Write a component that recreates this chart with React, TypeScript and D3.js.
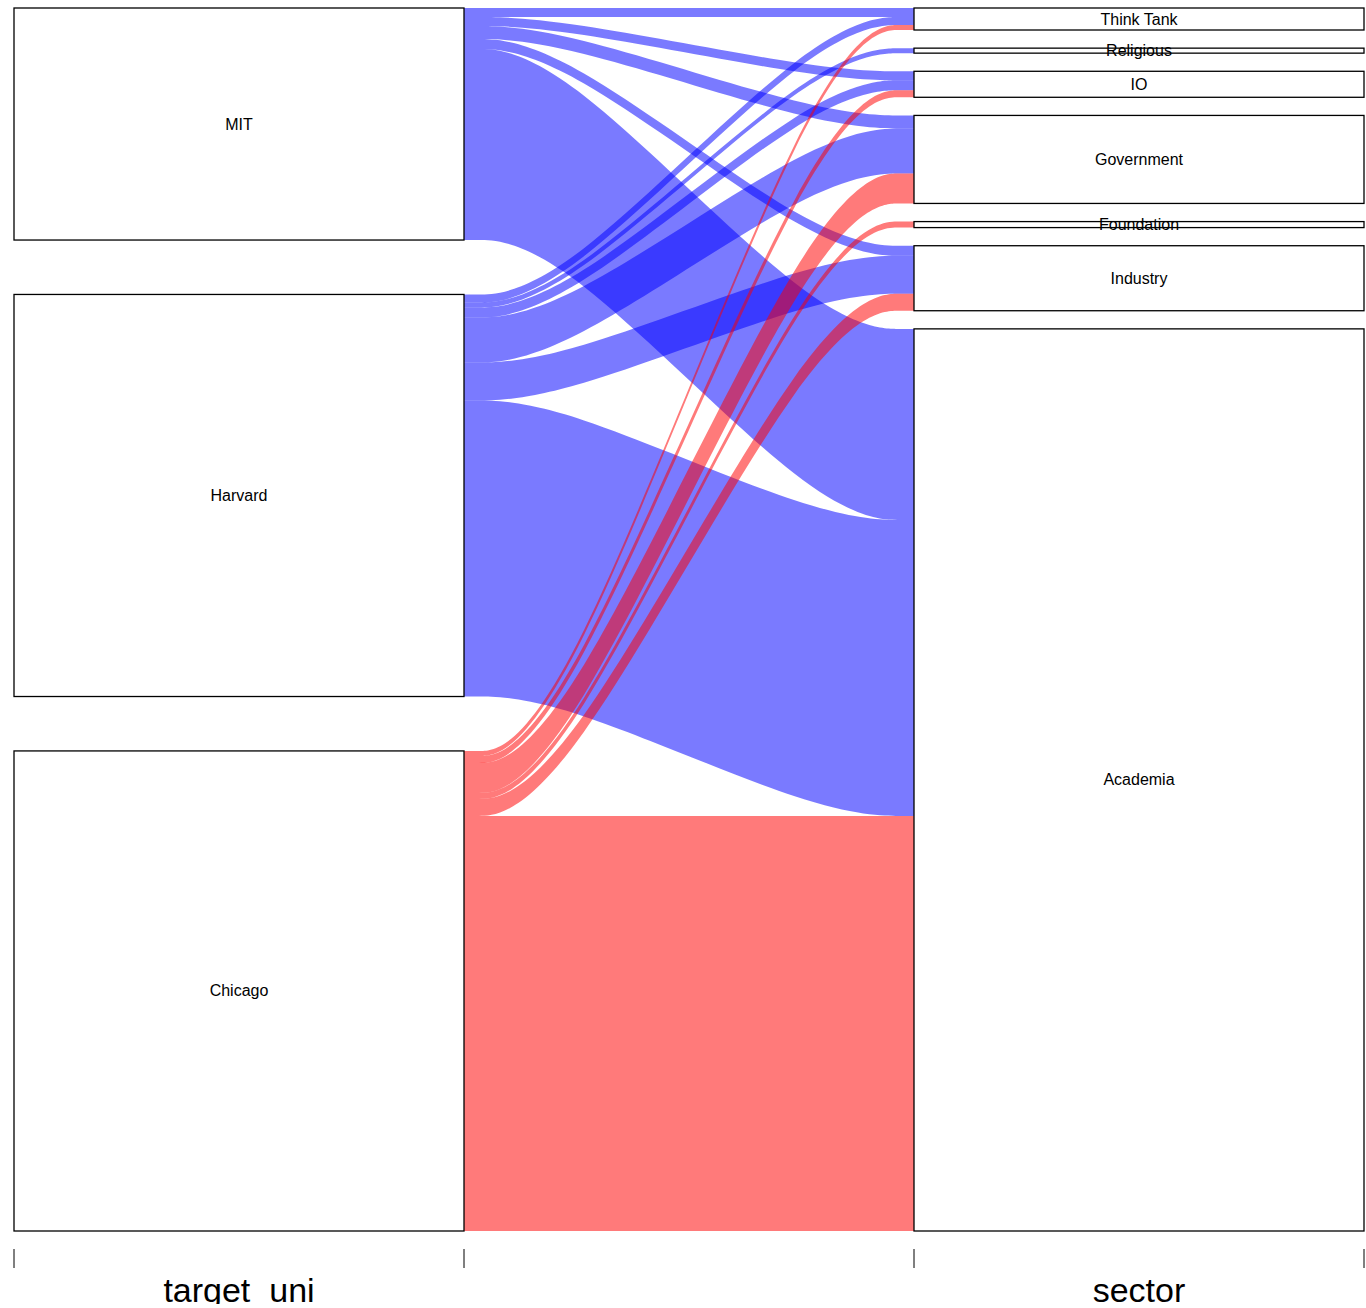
import React from "react";
import * as d3 from "d3";

// Levels (factor order; first level drawn at the bottom)
const uniLevels = ["Chicago", "Harvard", "MIT"];
const sectorLevels = ["Academia", "Industry", "Foundation", "Government", "IO", "Religious", "Think Tank"];

// Frequencies per university, by sector (same order as sectorLevels)
const chicagoFreq = [415, 17, 6, 30, 7, 0, 5];
const harvardFreq = [296, 38, 0, 45, 10, 5, 8];
const mitFreq = [191, 10, 0, 13, 9, 0, 9];

const uniColors = ["#ff0000", "#0000ff", "#0000ff"];
const axisLabels = ["target_uni", "sector"];

type Row = { ui: number; si: number; f: number };

export default function App() {
  const W = 1366;
  const H = 1308;
  const cw = 0.25;
  const xw = 0.1;
  const gapWidth = 0.089;
  const x = d3.scaleLinear().domain([1 - cw, 2 + cw]).range([14, 1364]);
  const y = d3.scaleLinear().domain([0, 1]).range([1231, 8]);

  const freqByUni = [chicagoFreq, harvardFreq, mitFreq];
  const rows: Row[] = [];
  uniLevels.forEach((_, ui) =>
    sectorLevels.forEach((_, si) => {
      const f = freqByUni[ui][si];
      if (f > 0) rows.push({ ui, si, f });
    })
  );
  const total = d3.sum(rows, (r) => r.f);
  const keys = [(r: Row) => r.ui, (r: Row) => r.si];

  const pos = keys.map((key, i) => {
    const other = keys[1 - i];
    const order = d3
      .range(rows.length)
      .sort((a, b) => key(rows[a]) - key(rows[b]) || other(rows[a]) - other(rows[b]));
    let cum = 0;
    let g = 0;
    let prev: number | null = null;
    const res: { lo: number; hi: number; g: number }[] = new Array(rows.length);
    order.forEach((idx, k) => {
      const kv = key(rows[idx]);
      if (k > 0 && kv !== prev) g++;
      prev = kv;
      res[idx] = { lo: cum, hi: cum + rows[idx].f, g };
      cum += rows[idx].f;
    });
    const mx = Math.max(g, 1);
    return res.map((p) => ({
      lo: (p.lo / total) * (1 - gapWidth) + (p.g / mx) * gapWidth,
      hi: (p.hi / total) * (1 - gapWidth) + (p.g / mx) * gapWidth,
    }));
  });

  const line = d3.line().curve(d3.curveBasis);
  const x0 = x(1 + cw);
  const x1 = x(2 - cw);
  const c0 = x(1 + cw + xw);
  const c1 = x(2 - cw - xw);

  const stripes = rows.map((r, i) => {
    const L = pos[0][i];
    const R = pos[1][i];
    const top = line([
      [x0, y(L.hi)],
      [c0, y(L.hi)],
      [c1, y(R.hi)],
      [x1, y(R.hi)],
    ]) as string;
    const bot = line([
      [x1, y(R.lo)],
      [c1, y(R.lo)],
      [c0, y(L.lo)],
      [x0, y(L.lo)],
    ]) as string;
    return { d: top + "L" + bot.slice(1) + "Z", color: uniColors[r.ui], ui: r.ui };
  });
  // blue first, red (Chicago) on top
  const drawOrder = [...stripes].sort((a, b) => (a.ui === 0 ? 1 : 0) - (b.ui === 0 ? 1 : 0));

  const levelSets = [uniLevels, sectorLevels];
  const boxes: { x: number; y0: number; y1: number; label: string }[] = [];
  levelSets.forEach((levels, i) => {
    levels.forEach((lab, li) => {
      const idxs = rows.map((r, k) => (keys[i](r) === li ? k : -1)).filter((k) => k >= 0);
      if (!idxs.length) return;
      const lo = d3.min(idxs, (k) => pos[i][k].lo) as number;
      const hi = d3.max(idxs, (k) => pos[i][k].hi) as number;
      boxes.push({ x: i + 1, y0: y(hi), y1: y(lo), label: lab });
    });
  });

  const tickXs = [1 - cw, 1 + cw, 2 - cw, 2 + cw];

  return (
    <svg
      width={W}
      height={H}
      style={{ position: "absolute", left: 0, top: 0, background: "#fff" }}
      fontFamily="'Liberation Sans', Arial, Helvetica, sans-serif"
    >
      <defs>
        <clipPath id="axisClip">
          <rect x={0} y={1240} width={W} height={64} />
        </clipPath>
      </defs>
      <rect x={0} y={0} width={W} height={H} fill="#fff" />
      {drawOrder.map((s, i) => (
        <path key={i} d={s.d} fill={s.color} fillOpacity={0.52} stroke="none" />
      ))}
      {boxes.map((b, i) => (
        <g key={i}>
          <rect
            x={x(b.x - cw)}
            y={b.y0}
            width={x(b.x + cw) - x(b.x - cw)}
            height={b.y1 - b.y0}
            fill="#fff"
            stroke="#000"
            strokeWidth={1.3}
          />
          <text
            x={x(b.x)}
            y={(b.y0 + b.y1) / 2}
            textAnchor="middle"
            dominantBaseline="central"
            fontSize={16}
            fill="#000"
          >
            {b.label}
          </text>
        </g>
      ))}
      {tickXs.map((t, i) => (
        <line key={i} x1={x(t)} x2={x(t)} y1={1249} y2={1268} stroke="#000" strokeWidth={1} />
      ))}
      <g clipPath="url(#axisClip)">
        {axisLabels.map((lab, i) => (
          <text key={i} x={x(i + 1)} y={1302} textAnchor="middle" fontSize={34} fill="#000">
            {lab}
          </text>
        ))}
      </g>
    </svg>
  );
}
